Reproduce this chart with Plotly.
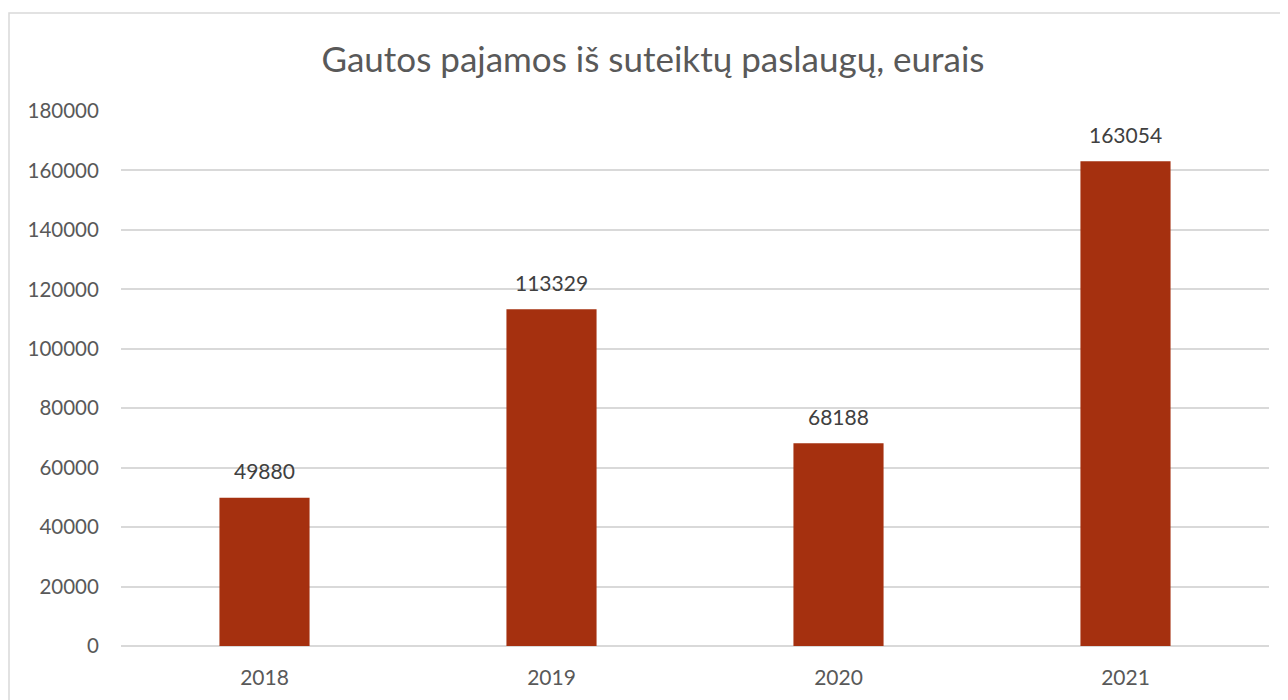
import plotly.graph_objects as go

years = ["2018", "2019", "2020", "2021"]
values = [49880, 113329, 68188, 163054]
title_text = "Gautos pajamos iš suteiktų paslaugų, eurais"
bar_color = "#A5300F"
FONT = "Lato"

# page body has an 8px margin; work in page pixels and subtract it
OFF = 8
W, H = 1288 - OFF, 700 - OFF
plot_l, plot_r, plot_t, plot_b = 121, 1269, 111, 646
ml, mr = plot_l - OFF, (1288 - plot_r)
mt, mb = plot_t - OFF, (700 - plot_b)
pw = W - ml - mr
ph = H - mt - mb

fig = go.Figure()
fig.add_trace(go.Bar(x=years, y=values, marker_color=bar_color, marker_line_width=0))

# category axis: numeric-looking names would be read as indices, so pass the category index
for i, v in enumerate(values):
    fig.add_annotation(x=i, y=v, text=str(v), showarrow=False, yshift=27, yanchor="middle",
                       font=dict(family=FONT, size=21, color="#404040"))

fig.add_shape(type="rect", xref="paper", yref="paper",
              x0=(9 - plot_l) / pw, x1=(1295 - plot_l) / pw,
              y0=-(710 - plot_b) / ph, y1=1 + (plot_t - 13) / ph,
              line=dict(color="#D9D9D9", width=1.5), fillcolor="rgba(0,0,0,0)", layer="below")

fig.update_layout(
    width=W, height=H,
    margin=dict(l=ml, r=mr, t=mt, b=mb, pad=0, autoexpand=False),
    paper_bgcolor="white", plot_bgcolor="white",
    title=dict(text=title_text, x=(653 - OFF) / W, xanchor="center", y=1 - (60 - OFF) / H,
               yanchor="middle", yref="container",
               font=dict(family=FONT, size=35, color="#595959")),
    bargap=0.686,
    showlegend=False,
    font=dict(family=FONT, color="#595959"),
    xaxis=dict(type="category", categoryorder="array", categoryarray=years, automargin=False,
               range=[-0.5, len(years) - 0.5],
               showgrid=False, showline=False, ticks="outside", ticklen=13, tickcolor="rgba(0,0,0,0)",
               tickfont=dict(size=21, color="#595959")),
    yaxis=dict(range=[0, 180000], dtick=20000, automargin=False, showgrid=True, gridcolor="#D9D9D9",
               gridwidth=1.5, zeroline=True, zerolinecolor="#D9D9D9", zerolinewidth=1.5, showline=False,
               ticks="outside", ticklen=17, tickcolor="rgba(0,0,0,0)",
               tickformat="d", tickfont=dict(size=20.5, color="#595959")),
)

fig.write_html("out.html")
